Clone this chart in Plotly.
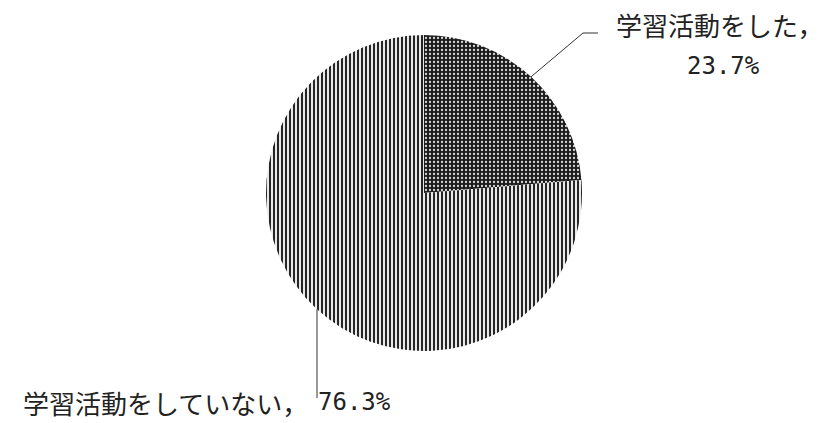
import math
import plotly.graph_objects as go

labels = ["学習活動をした", "学習活動をしていない"]
values = [23.7, 76.3]
label_line1 = ["学習活動をした，", "学習活動をしていない，"]

W, H = 827, 423
cx, cy, r = 424, 193, 158

def px(x):
    return x / W

def py(y):
    return 1 - y / H

fig = go.Figure(go.Pie(
    labels=labels,
    values=values,
    sort=False,
    direction="clockwise",
    rotation=0,
    textinfo="none",
    hoverinfo="label+percent",
    showlegend=False,
    marker=dict(
        colors=["#1a1a1a", "#ffffff"],
        line=dict(width=0),
        pattern=dict(
            shape=[".", "|"],
            fillmode="replace",
            bgcolor=["#1c1c1c", "#ffffff"],
            fgcolor=["#d8d8d8", "#262626"],
            size=[4, 4],
            solidity=[0.25, 0.55],
        ),
    ),
    domain=dict(x=[px(cx - r), px(cx + r)], y=[py(cy + r), py(cy - r)]),
))

# leader line for slice 1 (mid angle)
frac1 = values[0] / sum(values)
ang = frac1 * math.pi
ex, ey = cx + r * math.sin(ang), cy - r * math.cos(ang)
fig.add_shape(type="line", xref="paper", yref="paper",
              x0=px(ex), y0=py(ey), x1=px(583), y1=py(33),
              line=dict(color="#333", width=1))
fig.add_shape(type="line", xref="paper", yref="paper",
              x0=px(583), y0=py(33), x1=px(598), y1=py(33),
              line=dict(color="#333", width=1))

# leader line for slice 2
lx = 317
ly = cy + math.sqrt(r * r - (lx - cx) ** 2)
fig.add_shape(type="line", xref="paper", yref="paper",
              x0=px(lx), y0=py(ly), x1=px(lx), y1=py(398),
              line=dict(color="#333", width=1))

jp_font = dict(family="Noto Sans CJK JP", size=26, color="#222")
num_font = dict(family="DejaVu Sans Mono", size=24, color="#222")
fig.add_annotation(xref="paper", yref="paper", x=px(719), y=py(25),
                   text=label_line1[0], showarrow=False, font=jp_font,
                   xanchor="center", yanchor="middle")
fig.add_annotation(xref="paper", yref="paper", x=px(723), y=py(66),
                   text=f"{values[0]}%", showarrow=False, font=num_font,
                   xanchor="center", yanchor="middle")
fig.add_annotation(xref="paper", yref="paper", x=px(310), y=py(402),
                   text=label_line1[1], showarrow=False, font=jp_font,
                   xanchor="right", yanchor="middle")
fig.add_annotation(xref="paper", yref="paper", x=px(316), y=py(402),
                   text=f"{values[1]}%", showarrow=False, font=num_font,
                   xanchor="left", yanchor="middle")

fig.update_layout(
    width=W, height=H,
    margin=dict(l=0, r=0, t=0, b=0),
    paper_bgcolor="white",
    plot_bgcolor="white",
)

fig.write_html(
    "out.html",
    config={"displayModeBar": False},
    post_script="document.body.style.margin='0';document.body.style.overflow='hidden';",
)
